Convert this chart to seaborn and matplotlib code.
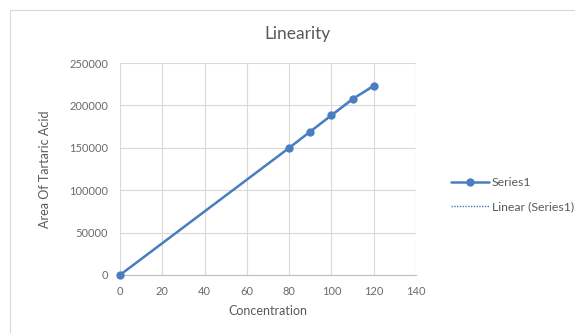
import numpy as np
import pandas as pd
import matplotlib
matplotlib.use("Agg")
import matplotlib.pyplot as plt
import seaborn as sns
from matplotlib.patches import Rectangle
from matplotlib.lines import Line2D

concentration = [0, 80, 90, 100, 110, 120]
area = [0, 149900, 169200, 188400, 207600, 222900]
x_ticks = [0, 20, 40, 60, 80, 100, 120, 140]
y_ticks = [0, 50000, 100000, 150000, 200000, 250000]

sns.set_theme(style="white")
plt.rcParams['font.family'] = ['Lato', 'DejaVu Sans']

blue = "#4A7EC0"
gray_txt = "#595959"
tick_txt = "#6b6b6b"

fig = plt.figure(figsize=(5.75, 3.33), dpi=100)
ax = fig.add_axes([0.2087, 0.1742, 0.7235 - 0.2087, 0.8108 - 0.1742])

df = pd.DataFrame({"Concentration": concentration, "Area": area})
sns.lineplot(data=df, x="Concentration", y="Area", ax=ax, color=blue,
             marker="o", markersize=6, markeredgewidth=0, linewidth=1.8,
             clip_on=False, zorder=3)

# linear trendline
coef = np.polyfit(concentration, area, 1)
xs = np.array([min(concentration), max(concentration)])
ax.plot(xs, np.polyval(coef, xs), color=blue, linestyle=(0, (1, 1)), linewidth=1.0, zorder=4)

ax.set_xlim(0, 140)
ax.set_ylim(0, 250000)
ax.set_xticks(x_ticks)
ax.set_yticks(y_ticks)
ax.tick_params(axis="both", labelsize=8, colors=tick_txt, length=0)
ax.tick_params(axis="y", pad=8.5)
ax.tick_params(axis="x", pad=8)
ax.grid(True, color="#d9d9d9", linewidth=0.8)
for s in ["top", "right", "left"]:
    ax.spines[s].set_visible(False)
ax.spines["bottom"].set_color("#bfbfbf")
ax.spines["bottom"].set_linewidth(0.8)

ax.set_xlabel("Concentration", fontsize=9, color=gray_txt, labelpad=6)
ax.set_ylabel("Area Of Tartaric Acid", fontsize=9, color=gray_txt, labelpad=13)
fig.text(0.518, 0.897, "Linearity", ha="center", va="center", fontsize=12.5, color=gray_txt)

# chart frame
fig.patches.append(Rectangle((10 / 575, -0.05), 1.1, 1 - 10 / 333 + 0.05,
                             transform=fig.transFigure, fill=False,
                             edgecolor="#d9d9d9", linewidth=0.8))

handles = [Line2D([], [], color=blue, marker="o", markersize=6, markeredgewidth=0, linewidth=1.8),
           Line2D([], [], color=blue, linestyle=(0, (1, 1)), linewidth=1.0)]
fig.legend(handles, ["Series1", "Linear (Series1)"], loc="upper left",
           bbox_to_anchor=(0.776, 0.482), frameon=False, fontsize=8.8,
           labelcolor=gray_txt, handlelength=3.1, handletextpad=0.25,
           labelspacing=1.05, borderaxespad=0)

fig.savefig("out.png", dpi=100)
